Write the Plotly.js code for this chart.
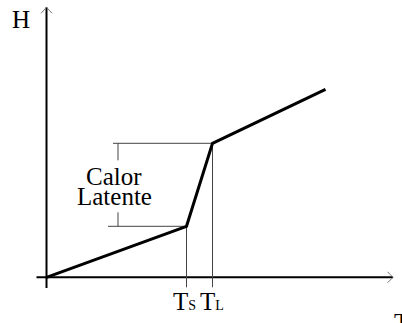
<!DOCTYPE html>
<html>
<head>
<meta charset="utf-8">
<script src="https://cdn.plot.ly/plotly-3.0.1.min.js"></script>
<style>html,body{margin:0;padding:0;background:#fff;}#chart{width:402px;height:323px;}</style>
</head>
<body>
<div id="chart"></div>
<script>
// Schematic enthalpy (H) vs temperature (T) curve
const temperature = [0, 140, 166, 279];   // origin, Ts, TL, end
const enthalpy    = [0, 51, 134, 188];
const axisLabels  = {x: "T", y: "H"};
const latentLabel = ["Calor", "Latente"];
const tempLabels  = [
  {main: "T", sub: "S"},
  {main: "T", sub: "L"}
];

const Ts = temperature[1], TL = temperature[2];
const Hs = enthalpy[1], HL = enthalpy[2];
const xMin = -10, xMax = 346.5, yMin = -10.7, yMax = 270;
const bracketX = 71.5;
const serif = "Liberation Serif, Times New Roman, serif";

const thin = {color: "#444", width: 1};
const axisLine = {color: "#000", width: 2};
const arrowLine = {color: "#777", width: 1};
function seg(x0, y0, x1, y1, line) {
  return {type: "line", xref: "x", yref: "y", x0, y0, x1, y1, line, layer: "below"};
}

const shapes = [
  // axes
  seg(0, yMin, 0, yMax, axisLine),
  seg(xMin, 0, xMax, 0, axisLine),
  // arrowheads
  seg(-5.5, yMax - 6, 0, yMax, arrowLine),
  seg(5.5, yMax - 6, 0, yMax, arrowLine),
  seg(xMax - 5.5, 5.5, xMax, 0, arrowLine),
  seg(xMax - 5.5, -5.5, xMax, 0, arrowLine),
  // guide verticals at Ts and TL
  seg(Ts, Hs, Ts, yMin + 0.7, thin),
  seg(TL, HL, TL, yMin + 0.7, thin),
  // latent heat bracket
  seg(66.5, HL, TL, HL, thin),
  seg(61.5, Hs, Ts, Hs, thin),
  seg(bracketX, HL, bracketX, HL - 17, thin),
  seg(bracketX, Hs + 14, bracketX, Hs, thin)
];

const midH = (Hs + HL) / 2;
const annotations = [
  {x: -25.5, y: 258, text: axisLabels.y},
  {x: 0.975, xref: "paper", xanchor: "left", y: -45, text: axisLabels.x},
  {x: 67, y: midH + 8.5, text: latentLabel[0]},
  {x: 68, y: midH - 11.5, text: latentLabel[1]},
  {x: Ts - 2, y: -24, text: tempLabels[0].main + "<span style='font-size:14px'>" + tempLabels[0].sub + "</span>"},
  {x: TL - 0.5, y: -24, text: tempLabels[1].main + "<span style='font-size:14px'>" + tempLabels[1].sub + "</span>"}
].map(a => Object.assign({
  xref: "x", yref: "y", showarrow: false, xanchor: "center", yanchor: "middle",
  font: {family: serif, size: 25, color: "#000"}
}, a));

const data = [{
  x: temperature, y: enthalpy, type: "scatter", mode: "lines",
  line: {color: "#000", width: 3}, hoverinfo: "skip"
}];

const layout = {
  width: 402, height: 323,
  margin: {l: 0, r: 0, t: 0, b: 0},
  paper_bgcolor: "#fff", plot_bgcolor: "#fff",
  showlegend: false,
  xaxis: {range: [-46.5, 355.5], visible: false, fixedrange: true},
  yaxis: {range: [-45.7, 277.3], visible: false, fixedrange: true},
  shapes, annotations
};

Plotly.newPlot("chart", data, layout, {staticPlot: true, displayModeBar: false});
</script>
</body>
</html>
